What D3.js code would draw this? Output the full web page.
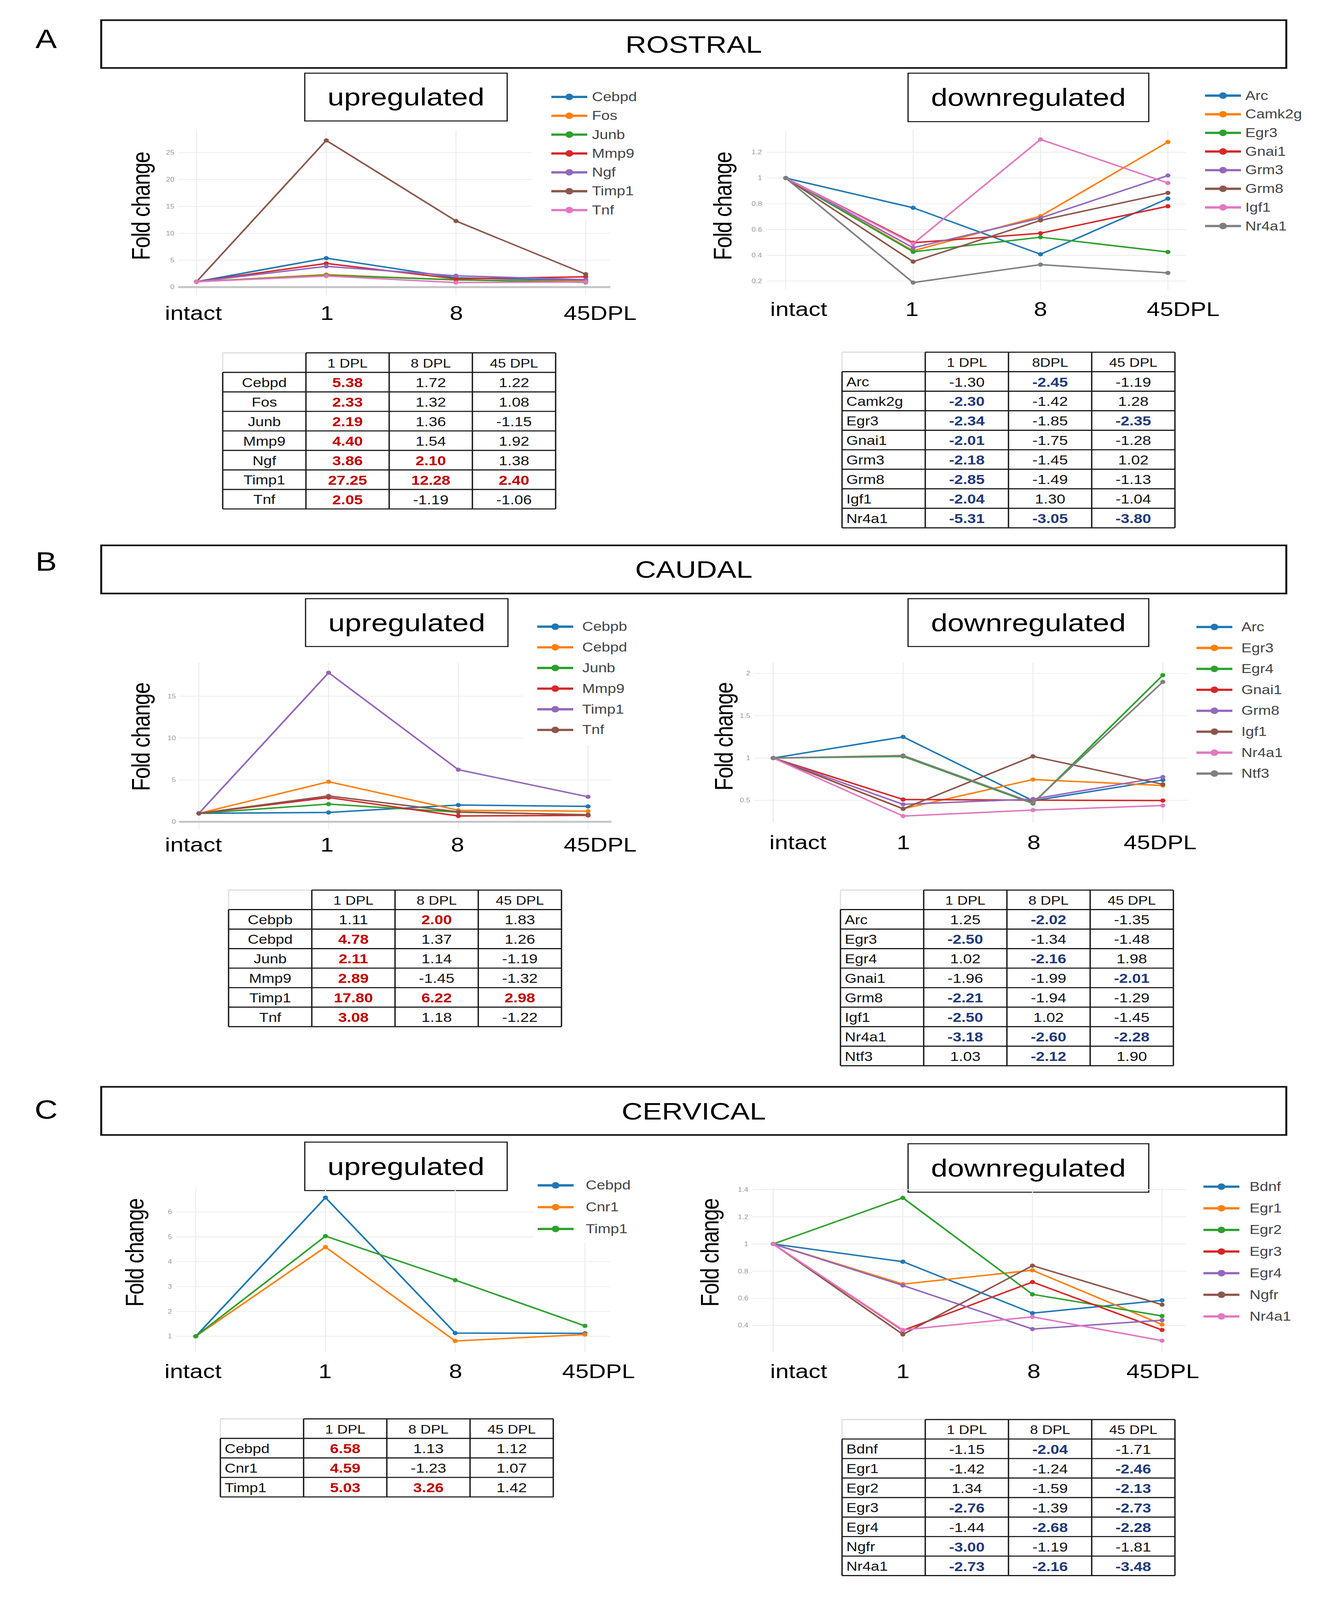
<!DOCTYPE html>
<html><head><meta charset="utf-8">
<script src="https://cdn.jsdelivr.net/npm/d3@7"></script>
<style>
html,body{margin:0;padding:0;background:#fff;overflow:hidden}
svg{display:block;width:100vw;height:100vh}
text{font-family:"Liberation Sans",Arial,Helvetica,sans-serif}
</style>
</head><body>
<svg id="fig" viewBox="0 0 3432 4920" preserveAspectRatio="none"></svg>
<script>
// ---------------- DATA ----------------
const timePoints = ["intact", "1", "8", "45DPL"];
const seriesColors = ["#1f77b4","#ff7f0e","#2ca02c","#d62728","#9467bd","#8c564b","#e377c2","#7f7f7f"];
const standardHeaders = ["1 DPL", "8 DPL", "45 DPL"];

// A  ROSTRAL
const rostralUpGenes = ["Cebpd","Fos","Junb","Mmp9","Ngf","Timp1","Tnf"];
const rostralUpValues = [[5.38,1.72,1.22],[2.33,1.32,1.08],[2.19,1.36,-1.15],[4.40,1.54,1.92],[3.86,2.10,1.38],[27.25,12.28,2.40],[2.05,-1.19,-1.06]];
const rostralUpTicks = [0,5,10,15,20,25];
const rostralDownGenes = ["Arc","Camk2g","Egr3","Gnai1","Grm3","Grm8","Igf1","Nr4a1"];
const rostralDownValues = [[-1.30,-2.45,-1.19],[-2.30,-1.42,1.28],[-2.34,-1.85,-2.35],[-2.01,-1.75,-1.28],[-2.18,-1.45,1.02],[-2.85,-1.49,-1.13],[-2.04,1.30,-1.04],[-5.31,-3.05,-3.80]];
const rostralDownHeaders = ["1 DPL", "8DPL", "45 DPL"];
const rostralDownTicks = [0.2,0.4,0.6,0.8,1,1.2];

// B  CAUDAL
const caudalUpGenes = ["Cebpb","Cebpd","Junb","Mmp9","Timp1","Tnf"];
const caudalUpValues = [[1.11,2.00,1.83],[4.78,1.37,1.26],[2.11,1.14,-1.19],[2.89,-1.45,-1.32],[17.80,6.22,2.98],[3.08,1.18,-1.22]];
const caudalUpTicks = [0,5,10,15];
const caudalDownGenes = ["Arc","Egr3","Egr4","Gnai1","Grm8","Igf1","Nr4a1","Ntf3"];
const caudalDownValues = [[1.25,-2.02,-1.35],[-2.50,-1.34,-1.48],[1.02,-2.16,1.98],[-1.96,-1.99,-2.01],[-2.21,-1.94,-1.29],[-2.50,1.02,-1.45],[-3.18,-2.60,-2.28],[1.03,-2.12,1.90]];
const caudalDownTicks = [0.5,1,1.5,2];

// C  CERVICAL
const cervicalUpGenes = ["Cebpd","Cnr1","Timp1"];
const cervicalUpValues = [[6.58,1.13,1.12],[4.59,-1.23,1.07],[5.03,3.26,1.42]];
const cervicalUpTicks = [1,2,3,4,5,6];
const cervicalDownGenes = ["Bdnf","Egr1","Egr2","Egr3","Egr4","Ngfr","Nr4a1"];
const cervicalDownValues = [[-1.15,-2.04,-1.71],[-1.42,-1.24,-2.46],[1.34,-1.59,-2.13],[-2.76,-1.39,-2.73],[-1.44,-2.68,-2.28],[-3.00,-1.19,-1.81],[-2.73,-2.16,-3.48]];
const cervicalDownTicks = [0.4,0.6,0.8,1,1.2,1.4];

// signed fold change in table -> ratio plotted
const toRatio = v => v >= 0 ? v : -1 / v;

// ---------------- DRAWING ----------------
const svg = d3.select("#fig");
svg.append("rect").attr("width", 3432).attr("height", 4920).attr("fill", "#fff");

function box(x, y, w, h, sw, label, fs) {
  svg.append("rect").attr("x", x).attr("y", y).attr("width", w).attr("height", h)
    .attr("fill", "#fff").attr("stroke", "#111").attr("stroke-width", sw);
  svg.append("text").attr("x", x + w / 2).attr("y", y + h / 2)
    .attr("text-anchor", "middle").attr("dominant-baseline", "central")
    .attr("font-size", fs).attr("fill", "#000").text(label);
}

function drawChart(c) {
  const g = svg.append("g");
  const x = d3.scalePoint().domain(timePoints).range([c.cx0, c.cx1]);
  const y = d3.scaleLinear().domain(c.domain).range([c.py1, c.py0]);
  // grid
  g.selectAll(null).data(c.ticks).join("line")
    .attr("x1", c.px0).attr("x2", c.px1).attr("y1", d => y(d)).attr("y2", d => y(d))
    .attr("stroke", "#ececec").attr("stroke-width", 2.5);
  g.selectAll(null).data(timePoints).join("line")
    .attr("x1", d => x(d)).attr("x2", d => x(d)).attr("y1", c.py0).attr("y2", c.py1)
    .attr("stroke", "#ececec").attr("stroke-width", 2.5);
  if (c.zero) {
    g.append("line").attr("x1", c.px0).attr("x2", c.px1).attr("y1", y(0)).attr("y2", y(0))
      .attr("stroke", "#c4c4c4").attr("stroke-width", 6);
  }
  // tick labels
  const ax = d3.axisLeft(y).tickValues(c.ticks).tickSize(0).tickPadding(0).tickFormat(d => String(d));
  const axg = g.append("g").attr("transform", `translate(${c.tickX},0)`).call(ax);
  axg.select(".domain").remove();
  axg.attr("font-family", null).attr("font-size", null);
  axg.selectAll("text").attr("font-size", 19).attr("fill", "#9a9a9a");
  // legend background (plotly legend box)
  if (c.legendBg) {
    g.append("rect").attr("x", c.legendBg[0]).attr("y", c.legendBg[1])
      .attr("width", c.legendBg[2]).attr("height", c.legendBg[3]).attr("fill", "#fff");
  }
  // series
  const series = c.genes.map((name, i) => ({
    name, color: seriesColors[i],
    pts: [1].concat(c.values[i].map(toRatio))
  }));
  const line = d3.line().x((d, i) => x(timePoints[i])).y(d => y(d));
  series.forEach(s => {
    g.append("path").attr("d", line(s.pts)).attr("fill", "none")
      .attr("stroke", s.color).attr("stroke-width", 4.5).attr("stroke-linejoin", "round");
    g.selectAll(null).data(s.pts).join("circle")
      .attr("cx", (d, i) => x(timePoints[i])).attr("cy", d => y(d)).attr("r", 6.5)
      .attr("fill", s.color);
  });
  // legend
  series.forEach((s, i) => {
    const ly = c.ly0 + i * c.ldy;
    g.append("line").attr("x1", c.lx).attr("x2", c.lx + 92).attr("y1", ly).attr("y2", ly)
      .attr("stroke", s.color).attr("stroke-width", 7);
    g.append("circle").attr("cx", c.lx + 46).attr("cy", ly).attr("r", 10).attr("fill", s.color);
    g.append("text").attr("x", c.tx).attr("y", ly).attr("dominant-baseline", "central")
      .attr("font-size", 39).attr("fill", "#444").text(s.name);
  });
  // y title
  g.append("text").attr("transform", `translate(${c.fx},${c.fy}) rotate(-90)`)
    .attr("text-anchor", "middle").attr("dominant-baseline", "central")
    .attr("font-size", 64).attr("textLength", 334).attr("lengthAdjust", "spacing")
    .attr("fill", "#000").text("Fold change");
  // x labels (hand-placed in the original figure)
  g.selectAll(null).data(timePoints).join("text")
    .attr("x", (d, i) => c.xlx[i]).attr("y", c.xly)
    .attr("text-anchor", "middle").attr("dominant-baseline", "central")
    .attr("font-size", 61).attr("fill", "#000").text(d => d);
}

function drawTable(t) {
  const g = svg.append("g");
  const cols = ["gene"].concat(t.headers);
  const cx = d3.scaleBand().domain(cols).range([t.x, t.x + 4 * 213]);
  const hh = 60, rh = 60;
  const ry = d3.scaleBand().domain(t.genes).range([t.y + hh, t.y + hh + rh * t.genes.length]);
  const x1 = t.x + 4 * 213, yEnd = t.y + hh + rh * t.genes.length;
  const cw = cx.bandwidth();
  const lc = "#1a1a1a", lw = 3.5;
  // header
  t.headers.forEach(h => {
    g.append("text").attr("x", cx(h) + cw / 2).attr("y", t.y + hh / 2 + 2)
      .attr("text-anchor", "middle").attr("dominant-baseline", "central")
      .attr("font-size", 37).attr("fill", "#111").text(h);
  });
  // rows
  t.genes.forEach((name, i) => {
    const cy = ry(name) + rh / 2 + 2;
    g.append("text").attr("x", t.align === "center" ? t.x + cw / 2 : t.x + 11).attr("y", cy)
      .attr("text-anchor", t.align === "center" ? "middle" : "start").attr("dominant-baseline", "central")
      .attr("font-size", 39).attr("fill", "#111").text(name);
    t.values[i].forEach((v, j) => {
      const strong = Math.abs(v) >= 2;
      g.append("text").attr("x", cx(t.headers[j]) + cw / 2).attr("y", cy)
        .attr("text-anchor", "middle").attr("dominant-baseline", "central")
        .attr("font-size", 40).attr("font-weight", strong ? "bold" : "normal")
        .attr("fill", strong ? t.hi : "#111").text(v.toFixed(2));
    });
  });
  // lines
  g.append("line").attr("x1", t.x).attr("x2", t.x + cw).attr("y1", t.y).attr("y2", t.y)
    .attr("stroke", "#d6d6d6").attr("stroke-width", 3);
  g.append("line").attr("x1", t.x).attr("x2", t.x).attr("y1", t.y).attr("y2", t.y + hh)
    .attr("stroke", "#dedede").attr("stroke-width", 3);
  g.append("line").attr("x1", t.x + cw).attr("x2", x1).attr("y1", t.y).attr("y2", t.y)
    .attr("stroke", lc).attr("stroke-width", lw);
  const hys = [t.y + hh].concat(t.genes.map(gn => ry(gn) + rh));
  g.selectAll(null).data(hys).join("line")
    .attr("x1", t.x).attr("x2", x1).attr("y1", d => d).attr("y2", d => d)
    .attr("stroke", lc).attr("stroke-width", lw);
  g.append("line").attr("x1", t.x).attr("x2", t.x).attr("y1", t.y + hh).attr("y2", yEnd)
    .attr("stroke", lc).attr("stroke-width", lw);
  cols.slice(1).concat(["end"]).forEach(cname => {
    const xx = cname === "end" ? x1 : cx(cname);
    g.append("line").attr("x1", xx).attr("x2", xx).attr("y1", t.y).attr("y2", yEnd)
      .attr("stroke", lc).attr("stroke-width", lw);
  });
}

function letter(l, y) {
  svg.append("text").attr("x", 118).attr("y", y).attr("text-anchor", "middle")
    .attr("dominant-baseline", "central").attr("font-size", 82).text(l);
}

const RED = "#c00000", NAVY = "#1f3a78";

// ---------- Panel A ----------
letter("A", 119);
box(259, 62, 3033, 147, 5, "ROSTRAL", 74);
box(780, 225, 518, 147, 3, "upregulated", 76);
box(2324, 225, 616, 149, 3, "downregulated", 76);
drawChart({genes: rostralUpGenes, values: rostralUpValues, ticks: rostralUpTicks,
  tickX: 446, px0: 456, px1: 1562, cx0: 503, cx1: 1499, py0: 402, py1: 906, domain: [-1.4, 29.05], zero: true,
  legendBg: [1362, 396, 360, 282], lx: 1411, tx: 1515, ly0: 298, ldy: 58,
  fx: 361, fy: 633, xly: 962, xlx: [495, 837, 1168, 1536]});
drawChart({genes: rostralDownGenes, values: rostralDownValues, ticks: rostralDownTicks,
  tickX: 1950, px0: 1962, px1: 3035, cx0: 2011, cx1: 2989, py0: 399, py1: 890, domain: [0.135, 1.375], zero: false,
  legendBg: null, lx: 3084, tx: 3187, ly0: 294, ldy: 57.3,
  fx: 1850, fy: 633, xly: 950, xlx: [2044, 2334, 2663, 3028]});
drawTable({x: 570, y: 1085, headers: standardHeaders, genes: rostralUpGenes, values: rostralUpValues, align: "center", hi: RED});
drawTable({x: 2155, y: 1083, headers: rostralDownHeaders, genes: rostralDownGenes, values: rostralDownValues, align: "start", hi: NAVY});

// ---------- Panel B ----------
letter("B", 1727);
box(259, 1677, 3033, 148, 5, "CAUDAL", 74);
box(782, 1841, 518, 147, 3, "upregulated", 76);
box(2324, 1841, 616, 147, 3, "downregulated", 76);
drawChart({genes: caudalUpGenes, values: caudalUpValues, ticks: caudalUpTicks,
  tickX: 450, px0: 458, px1: 1565, cx0: 509, cx1: 1505, py0: 2038, py1: 2549, domain: [-0.86, 18.99], zero: true,
  legendBg: [1340, 2030, 380, 262], lx: 1375, tx: 1490, ly0: 1927, ldy: 63.5,
  fx: 361, fy: 2265, xly: 2597, xlx: [495, 837, 1171, 1536]});
drawChart({genes: caudalDownGenes, values: caudalDownValues, ticks: caudalDownTicks,
  tickX: 1920, px0: 1930, px1: 3040, cx0: 1979, cx1: 2976, py0: 2037, py1: 2530, domain: [0.235, 2.13], zero: false,
  legendBg: null, lx: 3062, tx: 3177, ly0: 1928, ldy: 64.4,
  fx: 1853, fy: 2264, xly: 2590, xlx: [2042, 2312, 2646, 2969]});
drawTable({x: 585, y: 2737, headers: standardHeaders, genes: caudalUpGenes, values: caudalUpValues, align: "center", hi: RED});
drawTable({x: 2151, y: 2737, headers: standardHeaders, genes: caudalDownGenes, values: caudalDownValues, align: "start", hi: NAVY});

// ---------- Panel C ----------
letter("C", 3412);
box(259, 3342, 3033, 148, 5, "CERVICAL", 74);
box(780, 3512, 518, 149, 3, "upregulated", 76);
box(2324, 3517, 616, 149, 3, "downregulated", 76);
drawChart({genes: cervicalUpGenes, values: cervicalUpValues, ticks: cervicalUpTicks,
  tickX: 440, px0: 450, px1: 1560, cx0: 501, cx1: 1497, py0: 3652, py1: 4158, domain: [0.36, 6.98], zero: false,
  legendBg: [1368, 3646, 360, 176], lx: 1376, tx: 1499, ly0: 3645, ldy: 67,
  fx: 345, fy: 3851, xly: 4217, xlx: [494, 832, 1166, 1532]});
drawChart({genes: cervicalDownGenes, values: cervicalDownValues, ticks: cervicalDownTicks,
  tickX: 1915, px0: 1925, px1: 3036, cx0: 1979, cx1: 2974, py0: 3650, py1: 4159, domain: [0.2, 1.42], zero: false,
  legendBg: null, lx: 3080, tx: 3198, ly0: 3649, ldy: 66.5,
  fx: 1817, fy: 3851, xly: 4217, xlx: [2044, 2311, 2646, 2976]});
drawTable({x: 564, y: 4363, headers: standardHeaders, genes: cervicalUpGenes, values: cervicalUpValues, align: "start", hi: RED});
drawTable({x: 2155, y: 4365, headers: standardHeaders, genes: cervicalDownGenes, values: cervicalDownValues, align: "start", hi: NAVY});
</script>
</body></html>
